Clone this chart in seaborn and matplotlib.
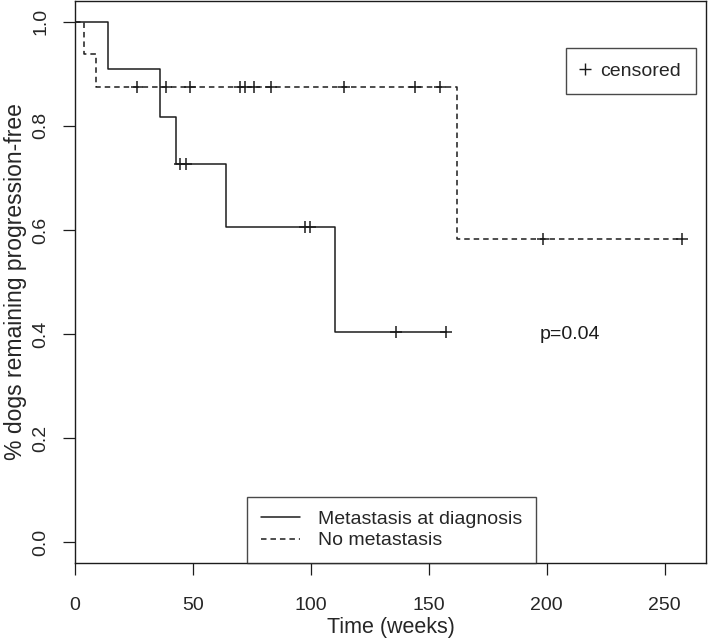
import numpy as np
import pandas as pd
import matplotlib
matplotlib.use("Agg")
import matplotlib.pyplot as plt
from matplotlib.lines import Line2D
import seaborn as sns

# ---- data ----
group_names = ["Metastasis at diagnosis", "No metastasis"]
met_event_times = [14.0, 36.0, 43.0, 64.0, 110.4]
met_surv = [0.909, 0.818, 0.727, 0.606, 0.404]
met_censor = [44.4, 46.9, 97.5, 99.8, 136.0, 157.2]

nomet_event_times = [3.9, 8.7, 162.1]
nomet_surv = [0.9375, 0.875, 0.583]
nomet_censor = [26.1, 38.8, 48.9, 70.0, 72.3, 76.1, 83.2, 114.2, 144.2, 154.8, 198.5, 257.3]

x_ticks = [0, 50, 100, 150, 200, 250]
y_ticks = [0.0, 0.2, 0.4, 0.6, 0.8, 1.0]
p_text = "p=0.04"

sns.set_style("white")
plt.rcParams["font.family"] = ["Liberation Sans", "DejaVu Sans"]
FS = 14
INK = "#1c1c1c"


def step_frame(ev_t, ev_s, cens):
    end = max(max(cens), max(ev_t))
    x = [0.0] + list(ev_t) + [end]
    y = [1.0] + list(ev_s) + [ev_s[-1]]
    return pd.DataFrame({"time": x, "surv": y})


def censor_frame(ev_t, ev_s, cens):
    ev_t = np.asarray(ev_t)
    levels = np.concatenate([[1.0], ev_s])
    idx = np.searchsorted(ev_t, np.asarray(cens), side="right")
    return pd.DataFrame({"time": cens, "surv": levels[idx]})


fig = plt.figure(figsize=(7.09, 6.38), dpi=100)
ax = fig.add_axes([75 / 709, 1 - 563 / 638, 631 / 709, 562 / 638])

met_line = step_frame(met_event_times, met_surv, met_censor)
nomet_line = step_frame(nomet_event_times, nomet_surv, nomet_censor)

sns.lineplot(data=met_line, x="time", y="surv", ax=ax, estimator=None,
             drawstyle="steps-post", color=INK, lw=1.1, linestyle="-")
sns.lineplot(data=nomet_line, x="time", y="surv", ax=ax, estimator=None,
             drawstyle="steps-post", color=INK, lw=1.1, dashes=(3.6, 2.6))

for ev_t, ev_s, cens in [(met_event_times, met_surv, met_censor),
                         (nomet_event_times, nomet_surv, nomet_censor)]:
    cf = censor_frame(ev_t, ev_s, cens)
    sns.scatterplot(data=cf, x="time", y="surv", ax=ax, marker="+",
                    s=85, color=INK, linewidth=1.1, zorder=3)

ax.set_xlim(0, 257.3 * 1.04)
ax.set_ylim(-0.04, 1.04)
ax.set_xticks(x_ticks)
ax.set_yticks(y_ticks)
ax.set_xticklabels([str(v) for v in x_ticks], fontsize=FS)
ax.set_yticklabels([f"{v:.1f}" for v in y_ticks], fontsize=FS, rotation=90,
                   va="center")
ax.tick_params(axis="x", direction="out", length=8.6, width=0.9, color=INK,
               pad=16, bottom=True)
ax.tick_params(axis="y", direction="out", length=8.6, width=0.9, color=INK,
               pad=10, left=True)
for sp in ax.spines.values():
    sp.set_visible(True)
    sp.set_color(INK)
    sp.set_linewidth(1.0)

ax.set_xlabel("Time (weeks)", fontsize=15.5, labelpad=2)
ax.set_ylabel("% dogs remaining progression-free", fontsize=16.5, labelpad=4)

ax.text(210, 0.40, p_text, fontsize=FS, ha="center", va="center", color=INK)

# censored legend
h1 = [Line2D([], [], marker="+", linestyle="none", color=INK, markersize=9,
             markeredgewidth=1.0)]
leg1 = ax.legend(h1, ["censored"], loc="upper right",
                 bbox_to_anchor=(0.984, 0.917), fontsize=FS, frameon=True,
                 fancybox=False, edgecolor=INK, borderpad=0.75,
                 handlelength=0.5, handletextpad=0.55, borderaxespad=0)
leg1.get_frame().set_linewidth(1.0)
ax.add_artist(leg1)

h2 = [Line2D([], [], color=INK, lw=1.1, linestyle="-"),
      Line2D([], [], color=INK, lw=1.1, dashes=(3.6, 2.6))]
leg2 = ax.legend(h2, group_names, loc="lower center",
                 bbox_to_anchor=(0.5015, 0.0), fontsize=FS, frameon=True,
                 fancybox=False, edgecolor=INK, borderpad=0.7,
                 handlelength=2.0, handletextpad=0.95, labelspacing=0.2,
                 borderaxespad=0)
leg2.get_frame().set_linewidth(1.0)

fig.savefig("out.png", dpi=100)
